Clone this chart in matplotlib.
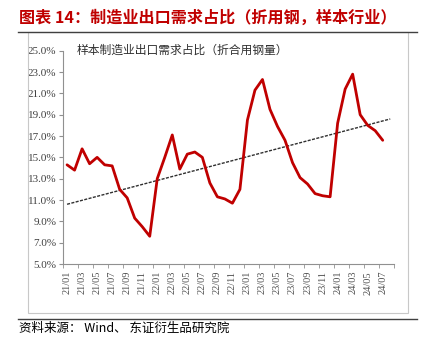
import numpy as np
import matplotlib.pyplot as plt
from matplotlib.lines import Line2D
from matplotlib.patches import Rectangle

plt.rcParams['font.family'] = ['Noto Sans CJK SC', 'DejaVu Sans']

# monthly values, 21/01 .. 24/07 (%)
months = ['21/01', '21/02', '21/03', '21/04', '21/05', '21/06', '21/07', '21/08', '21/09', '21/10', '21/11', '21/12',
          '22/01', '22/02', '22/03', '22/04', '22/05', '22/06', '22/07', '22/08', '22/09', '22/10', '22/11', '22/12',
          '23/01', '23/02', '23/03', '23/04', '23/05', '23/06', '23/07', '23/08', '23/09', '23/10', '23/11', '23/12',
          '24/01', '24/02', '24/03', '24/04', '24/05', '24/06', '24/07', '24/08']
share = [14.3, 13.8, 15.8, 14.4, 15.0, 14.3, 14.2, 12.0, 11.2, 9.3, 8.5, 7.6,
         13.0, 15.0, 17.1, 13.9, 15.3, 15.5, 15.0, 12.6, 11.3, 11.1, 10.7, 12.0,
         18.5, 21.3, 22.3, 19.5, 17.9, 16.6, 14.5, 13.1, 12.5, 11.6, 11.4, 11.3,
         18.2, 21.4, 22.8, 19.0, 18.0, 17.5, 16.6]
# trend line values at first and last category
trend = [10.6, 18.6]
yticks = [5, 7, 9, 11, 13, 15, 17, 19, 21, 23, 25]

fig = plt.figure(figsize=(4.29, 3.39), dpi=100)
W, H = 429, 339

# frame and separator lines
fig.patches.append(Rectangle((27.7 / W, 1 - 312.7 / H), (408 - 27.7) / W, (312.7 - 32) / H,
                             transform=fig.transFigure, fill=False, edgecolor='#c8c8c8', linewidth=0.8))
fig.lines.append(Line2D([18 / W, 417 / W], [1 - 32 / H, 1 - 32 / H], transform=fig.transFigure,
                        color='#404040', linewidth=1.0))
fig.lines.append(Line2D([18 / W, 417 / W], [1 - 318.7 / H, 1 - 318.7 / H], transform=fig.transFigure,
                        color='#404040', linewidth=1.0))

fig.text(19 / W, 1 - 18 / H, '图表 14：制造业出口需求占比（折用钢，样本行业）', color='#C00000',
         fontsize=11.6, fontweight='bold', va='center', ha='left')
fig.text(19 / W, 1 - 328 / H, '资料来源： Wind、 东证衍生品研究院', color='black',
         fontsize=9, va='center', ha='left')

ax = fig.add_axes([63.3 / W, 1 - 264 / H, (394 - 63.3) / W, (264 - 50.7) / H])
x = np.arange(len(share))
ax.plot(x, share, color='#C00000', linewidth=2.0, solid_joinstyle='round', solid_capstyle='round', zorder=3)
ax.plot([0, len(months) - 1], trend, color='#303030', linewidth=1.0, linestyle=(0, (2.2, 1.0)), zorder=2)

ax.set_xlim(-0.5, len(months) - 0.5)
ax.set_ylim(5, 25)
ax.set_yticks(yticks)
ax.set_yticklabels(['%.1f%%' % v for v in yticks], family='Liberation Serif', fontsize=8, color='#404040')
ax.set_xticks(np.arange(0, len(months), 2))
ax.set_xticklabels(months[::2], rotation=90, family='Liberation Serif', fontsize=7.5, color='#505050')
ax.set_xticks(np.arange(-0.5, len(months), 2), minor=True)
ax.tick_params(axis='x', which='major', length=0, pad=5)
ax.tick_params(axis='x', which='minor', length=3, color='#909090', direction='out')
ax.tick_params(axis='y', length=3, color='#909090', direction='out', pad=2)
for s in ['top', 'right']:
    ax.spines[s].set_visible(False)
for s in ['left', 'bottom']:
    ax.spines[s].set_color('#909090')
    ax.spines[s].set_linewidth(0.8)

ax.text(0.04, 1.0, '样本制造业出口需求占比（折合用钢量）', transform=ax.transAxes, fontsize=8.5,
        color='#303030', va='center', ha='left')

fig.savefig('out.png', dpi=100)
